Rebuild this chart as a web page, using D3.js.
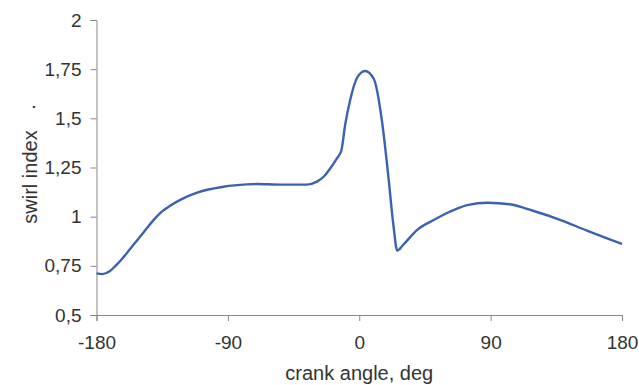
<!DOCTYPE html>
<html>
<head>
    <meta charset="utf-8">
    <title>Swirl index vs crank angle</title>
    <script src="https://d3js.org/d3.v7.min.js"></script>
    <style>
        body { margin: 0; background: #fff; }
        text { font-family: "Liberation Sans", Arial, sans-serif; fill: #333; }
    </style>
</head>
<body>
    <script>
        // values
        const angles = [-180, -176, -171, -167.5, -163, -158.5, -154, -149.5, -145, -140, -136, -129, -122, -111, -93, -77, -70, -54, -36,
                        -29, -24.4, -19.8, -15.3, -12.3, -9.6, -6, -1.6, 4, 10, 15.5, 20, 23.5, 26, 30, 39.5,
                        51, 62, 74, 88, 103, 119, 138, 156, 180];
        const swirl = [0.712, 0.708, 0.722, 0.746, 0.781, 0.822, 0.863, 0.904, 0.946, 0.99, 1.02, 1.058, 1.088, 1.122, 1.152, 1.164, 1.166, 1.163, 1.163,
                       1.178, 1.203, 1.246, 1.297, 1.335, 1.47, 1.6, 1.705, 1.741, 1.7, 1.49, 1.2, 0.95, 0.828, 0.856, 0.932,
                       0.983, 1.025, 1.059, 1.071, 1.063, 1.03, 0.983, 0.929, 0.861];
        const xTicks = [-180, -90, 0, 90, 180];
        const yTicks = [0.5, 0.75, 1, 1.25, 1.5, 1.75, 2];

        const width = 639, height = 385;
        const margin = { top: 20, right: 17, bottom: 70, left: 96.5 };

        const svg = d3.select("body").append("svg")
            .attr("width", width)
            .attr("height", height);

        const x = d3.scaleLinear().domain([-180, 180]).range([margin.left, width - margin.right]);
        const y = d3.scaleLinear().domain([0.5, 2]).range([height - margin.bottom, margin.top]);

        const fmt = d => String(d).replace(".", ",");

        const xAxis = svg.append("g")
            .attr("transform", `translate(0,${height - margin.bottom})`)
            .call(d3.axisBottom(x).tickValues(xTicks).tickSize(6).tickPadding(15).tickFormat(d => d));
        const yAxis = svg.append("g")
            .attr("transform", `translate(${margin.left},0)`)
            .call(d3.axisLeft(y).tickValues(yTicks).tickSize(6).tickPadding(9).tickFormat(fmt));

        [xAxis, yAxis].forEach(g => {
            g.select(".domain").attr("stroke", "#888");
            g.selectAll(".tick line").attr("stroke", "#888");
            g.selectAll(".tick text").attr("font-size", 19).attr("fill", "#333")
                .attr("font-family", "Liberation Sans, Arial, sans-serif");
        });

        const line = d3.line()
            .x((d, i) => x(angles[i]))
            .y(d => y(d))
            .curve(d3.curveMonotoneX);

        svg.append("path")
            .datum(swirl)
            .attr("d", line)
            .attr("fill", "none")
            .attr("stroke", "#3a62b0")
            .attr("stroke-width", 2.4);

        // axis titles
        svg.append("text")
            .attr("x", x(0))
            .attr("y", 380)
            .attr("text-anchor", "middle")
            .attr("font-size", 20)
            .text("crank angle, deg");

        svg.append("text")
            .attr("transform", "translate(37,177) rotate(-90)")
            .attr("text-anchor", "middle")
            .attr("font-size", 20)
            .text("swirl index");

        svg.append("text")
            .attr("transform", "translate(35,107) rotate(-90)")
            .attr("text-anchor", "middle")
            .attr("font-size", 20)
            .text(".");
    </script>
</body>
</html>
